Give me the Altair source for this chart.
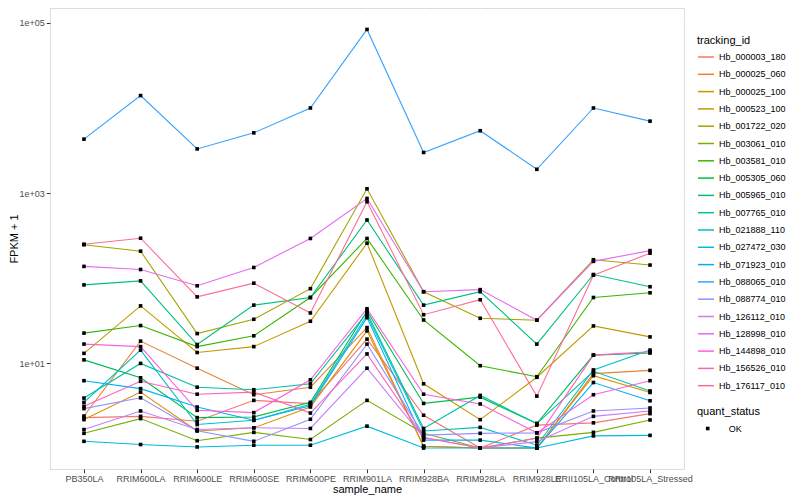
import altair as alt
import pandas as pd

samples = ["PB350LA", "RRIM600LA", "RRIM600LE", "RRIM600SE", "RRIM600PE", "RRIM901LA",
           "RRIM928BA", "RRIM928LA", "RRIM928LE", "RRII105LA_Control", "RRII105LA_Stressed"]

tracking_ids = ["Hb_000003_180", "Hb_000025_060", "Hb_000025_100", "Hb_000523_100", "Hb_001722_020",
                "Hb_003061_010", "Hb_003581_010", "Hb_005305_060", "Hb_005965_010", "Hb_007765_010",
                "Hb_021888_110", "Hb_027472_030", "Hb_071923_010", "Hb_088065_010", "Hb_088774_010",
                "Hb_126112_010", "Hb_128998_010", "Hb_144898_010", "Hb_156526_010", "Hb_176117_010"]

colors = ["#F8766D", "#EA8331", "#D89000", "#C09B00", "#A3A500", "#7CAE00", "#39B600", "#00BB4E",
          "#00BF7D", "#00C1A3", "#00BFC4", "#00BAE0", "#00B0F6", "#35A2FF", "#9590FF", "#C77CFF",
          "#E76BF3", "#FA62DB", "#FF62BC", "#FF6C91"]

# FPKM + 1 per sample (order of `samples`)
Hb_000003_180 = [2.28, 2.36, 2.07, 3.64, 3.33, 19.1, 2.43, 1.0, 1.86, 1.98, 2.54]
Hb_000025_060 = [2.38, 18.1, 8.7, 4.24, 5.2, 26.1, 1.05, 1.0, 1.0, 7.5, 8.2]
Hb_000025_100 = [2.16, 4.55, 1.59, 1.73, 3.04, 23.9, 1.05, 1.0, 1.0, 7.1, 4.5]
Hb_000523_100 = [13.0, 47, 13.3, 15.6, 31, 257, 5.7, 2.16, 6.8, 27.3, 20.3]
Hb_001722_020 = [246, 207, 22.2, 32.7, 75, 1120, 69, 33.6, 31.9, 164, 142]
Hb_003061_010 = [1.49, 2.22, 1.22, 1.53, 1.26, 3.64, 1.49, 1.0, 1.31, 1.53, 2.14]
Hb_003581_010 = [22.5, 27.6, 15.6, 20.9, 59, 292, 32.1, 9.3, 6.9, 59, 67]
Hb_005305_060 = [10.9, 6.7, 2.28, 2.32, 3.45, 41, 3.35, 3.97, 1.94, 12.4, 13.1]
Hb_005965_010 = [83, 92.5, 16.5, 48, 59, 482, 48, 69, 16.7, 110, 79]
Hb_007765_010 = [3.87, 9.9, 5.2, 4.85, 5.7, 39, 1.70, 4.16, 1.94, 8.0, 4.7]
Hb_021888_110 = [3.45, 14.2, 1.89, 2.12, 3.27, 36.7, 1.59, 1.75, 1.08, 8.3, 14.2]
Hb_027472_030 = [1.20, 1.10, 1.03, 1.08, 1.08, 1.81, 1.0, 1.0, 1.0, 1.39, 1.41]
Hb_071923_010 = [6.2, 5.0, 3.04, 2.12, 3.14, 34.2, 1.24, 1.24, 1.0, 5.9, 3.6]
Hb_088065_010 = [4300, 14000, 3300, 5100, 10000, 84000, 3000, 5400, 1900, 10000, 7000]
Hb_088774_010 = [2.91, 3.9, 1.6, 1.2, 2.18, 16.7, 1.42, 1.49, 1.51, 2.73, 2.96]
Hb_126112_010 = [1.65, 2.73, 1.65, 1.73, 1.70, 8.7, 1.33, 1.0, 1.19, 2.36, 2.73]
Hb_128998_010 = [137, 126, 81, 133, 292, 863, 69, 73, 31.9, 157, 210]
Hb_144898_010 = [16.7, 15.6, 2.78, 2.61, 6.35, 43.5, 4.3, 3.3, 1.51, 4.24, 6.2]
Hb_156526_010 = [3.1, 6.1, 4.3, 4.55, 2.58, 12.8, 1.33, 1.0, 1.30, 12.4, 13.6]
Hb_176117_010 = [250, 294, 60, 87, 38.8, 789, 37, 55.5, 4.08, 108, 196]

series = {
    "Hb_000003_180": Hb_000003_180, "Hb_000025_060": Hb_000025_060, "Hb_000025_100": Hb_000025_100,
    "Hb_000523_100": Hb_000523_100, "Hb_001722_020": Hb_001722_020, "Hb_003061_010": Hb_003061_010,
    "Hb_003581_010": Hb_003581_010, "Hb_005305_060": Hb_005305_060, "Hb_005965_010": Hb_005965_010,
    "Hb_007765_010": Hb_007765_010, "Hb_021888_110": Hb_021888_110, "Hb_027472_030": Hb_027472_030,
    "Hb_071923_010": Hb_071923_010, "Hb_088065_010": Hb_088065_010, "Hb_088774_010": Hb_088774_010,
    "Hb_126112_010": Hb_126112_010, "Hb_128998_010": Hb_128998_010, "Hb_144898_010": Hb_144898_010,
    "Hb_156526_010": Hb_156526_010, "Hb_176117_010": Hb_176117_010,
}

rows = []
for tid in tracking_ids:
    for s, v in zip(samples, series[tid]):
        rows.append({"tracking_id": tid, "sample_name": s, "value": v, "quant_status": "OK"})
df = pd.DataFrame(rows)

FONT = "Liberation Sans"
major = "datum.value == 10 || datum.value == 1000 || datum.value == 100000"

x = alt.X("sample_name:N", sort=samples,
          scale=alt.Scale(type="point", padding=0.6),
          axis=alt.Axis(title="sample_name", labelAngle=0, labelOverlap=False,
                        labelFontSize=9, labelColor="#4D4D4D", labelFont=FONT, labelPadding=2,
                        titleFont=FONT, titleFontSize=11, titleFontWeight="normal", titleColor="black",
                        titlePadding=0, tickColor="#333333", tickSize=3.7, tickWidth=1,
                        grid=True, gridColor="white", gridWidth=1.1, domain=False))

y = alt.Y("value:Q",
          scale=alt.Scale(type="log", domain=[0.567, 150000], nice=False, zero=False),
          axis=alt.Axis(title="FPKM + 1", values=[1, 10, 100, 1000, 10000, 100000],
                        labelExpr="datum.value == 10 ? '1e+01' : datum.value == 1000 ? '1e+03' : datum.value == 100000 ? '1e+05' : ''",
                        labelFontSize=9, labelColor="#4D4D4D", labelFont=FONT, labelPadding=2,
                        titleFont=FONT, titleFontSize=11, titleFontWeight="normal", titleColor="black",
                        titlePadding=0, tickSize=3.7, tickWidth=1,
                        tickColor={"condition": {"test": major, "value": "#333333"}, "value": "transparent"},
                        grid=True, gridColor="white",
                        gridWidth={"condition": {"test": major, "value": 1.1}, "value": 0.55},
                        domain=False))

lines = alt.Chart(df).mark_line(strokeWidth=1.1).encode(
    x=x, y=y,
    color=alt.Color("tracking_id:N",
                    scale=alt.Scale(domain=tracking_ids, range=colors),
                    legend=alt.Legend(title="tracking_id", orient="none", legendX=647, legendY=27,
                                      titleFont=FONT, titleFontSize=11, titleFontWeight="normal",
                                      titleColor="black", titlePadding=2,
                                      labelFont=FONT, labelFontSize=9, labelColor="black", labelOffset=4,
                                      symbolType="stroke", symbolSize=256, symbolStrokeWidth=1.5,
                                      rowPadding=3.3)),
)

points = alt.Chart(df).mark_point(filled=True, color="black", opacity=1, size=13).encode(
    x=x, y=y,
    detail="tracking_id:N",
    shape=alt.Shape("quant_status:N",
                    scale=alt.Scale(domain=["OK"], range=["square"]),
                    legend=alt.Legend(title="quant_status", orient="none", legendX=647, legendY=398,
                                      titleFont=FONT, titleFontSize=11, titleFontWeight="normal",
                                      titleColor="black", titlePadding=7,
                                      labelFont=FONT, labelFontSize=9, labelColor="black",
                                      symbolSize=13, symbolFillColor="black", symbolStrokeColor="black",
                                      symbolOffset=6.2, labelOffset=16.5)),
)

chart = alt.layer(lines, points).properties(
    width=634, height=461,
    padding={"left": 42, "top": 0, "right": 108, "bottom": 30},
    autosize=alt.AutoSizeParams(type="none"),
).configure_view(fill="#EBEBEB", strokeOpacity=0).configure(background="white")

chart.save("out.html", embed_options={"renderer": "svg", "actions": False})
